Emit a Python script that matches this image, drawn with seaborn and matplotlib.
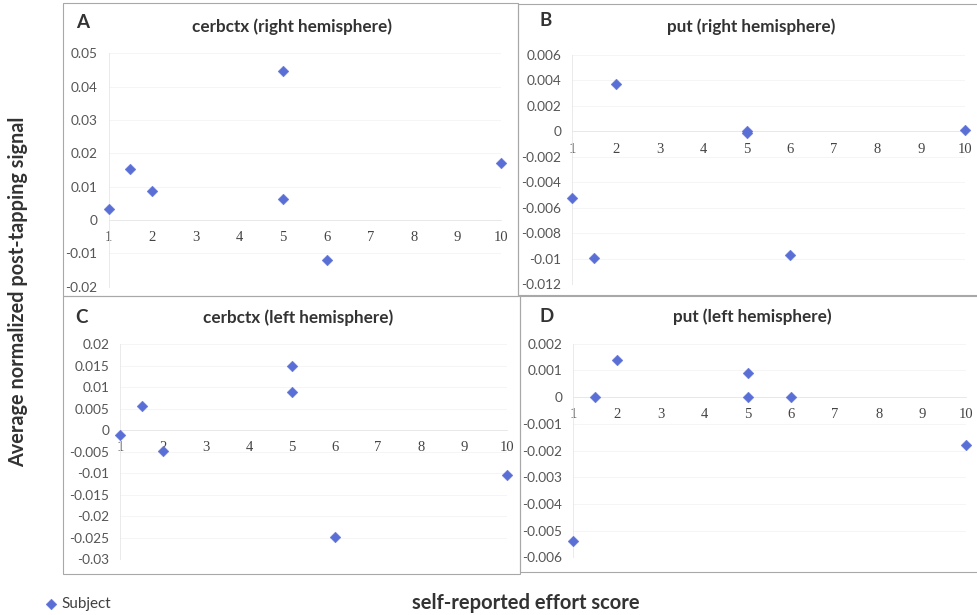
import matplotlib
matplotlib.use("Agg")
import matplotlib.pyplot as plt
from matplotlib.patches import Rectangle
from matplotlib.ticker import FuncFormatter
import pandas as pd
import seaborn as sns

# effort score of each subject, same for all four panels
effort = [1, 1.5, 2, 5, 5, 6, 10]

# average normalized post-tapping signal
cerbctx_right = [0.0032, 0.0152, 0.0088, 0.0446, 0.0064, -0.0119, 0.0170]
put_right = [-0.0052, -0.0099, 0.0037, 0.0000, -0.0001, -0.0097, 0.0001]
cerbctx_left = [-0.0010, 0.0057, -0.0049, 0.0150, 0.0089, -0.0247, -0.0103]
put_left = [-0.0054, 0.0000, 0.0014, 0.0009, 0.0000, 0.0000, -0.0018]

x_ticks = [1, 2, 3, 4, 5, 6, 7, 8, 9, 10]
yticks_A = [-0.02, -0.01, 0, 0.01, 0.02, 0.03, 0.04, 0.05]
yticks_B = [-0.012, -0.01, -0.008, -0.006, -0.004, -0.002, 0, 0.002, 0.004, 0.006]
yticks_C = [-0.03, -0.025, -0.02, -0.015, -0.01, -0.005, 0, 0.005, 0.01, 0.015, 0.02]
yticks_D = [-0.006, -0.005, -0.004, -0.003, -0.002, -0.001, 0, 0.001, 0.002]

letters = ["A", "B", "C", "D"]
titles = ["cerbctx (right hemisphere)", "put (right hemisphere)",
          "cerbctx (left hemisphere)", "put (left hemisphere)"]

sns.set_theme(style="white")
plt.rcParams["font.family"] = ["Lato", "DejaVu Sans"]

W, H = 977, 615
fig = plt.figure(figsize=(W / 100, H / 100), dpi=100)


def px_box(l, t, r, b):
    # pixel box -> figure fraction [left, bottom, width, height]
    return [l / W, 1 - b / H, (r - l) / W, (b - t) / H]


def fx(x):
    return x / W


def fy(y):
    return 1 - y / H


panels = [
    (px_box(108.5, 53.3, 501, 286.7), cerbctx_right, yticks_A, (83, 22), (292, 27)),
    (px_box(572.3, 55, 964.7, 284.3), put_right, yticks_B, (546, 21), (751, 27)),
    (px_box(120.3, 344.3, 507, 559.3), cerbctx_left, yticks_C, (82, 317), (298, 318)),
    (px_box(573.3, 343.7, 966, 557.3), put_left, yticks_D, (547, 316), (752, 317)),
]

blue = "#5a6fd6"
fmt = FuncFormatter(lambda v, p: f"{round(v, 6):g}" if round(v, 6) != 0 else "0")

handles = None
for i, (box, vals, yt, lpos, tpos) in enumerate(panels):
    ax = fig.add_axes(box)
    df = pd.DataFrame({"effort": effort, "signal": vals})
    sns.scatterplot(data=df, x="effort", y="signal", ax=ax, marker="D", s=30,
                    color=blue, edgecolor=blue, linewidth=0.3, clip_on=False,
                    zorder=5, label="Subject")
    if i == 0:
        handles, labels = ax.get_legend_handles_labels()
    ax.get_legend().remove()

    ax.set_xlim(1, 10)
    ax.set_ylim(yt[0], yt[-1])
    ax.set_xticks(x_ticks)
    ax.set_yticks(yt)
    ax.yaxis.set_major_formatter(fmt)
    ax.set_xlabel("")
    ax.set_ylabel("")
    ax.grid(axis="y", color="#f4f4f4", linewidth=0.6)
    ax.set_axisbelow(True)
    for s in ["top", "right"]:
        ax.spines[s].set_visible(False)
    ax.spines["left"].set_color("#e6e6e6")
    ax.spines["left"].set_linewidth(0.6)
    ax.spines["bottom"].set_position(("data", 0))
    ax.spines["bottom"].set_color("#e6e6e6")
    ax.spines["bottom"].set_linewidth(0.6)
    ax.tick_params(axis="y", length=3, color="#dddddd", pad=5,
                   labelsize=9.8, labelcolor="#555555")
    ax.tick_params(axis="x", length=0, pad=8, labelsize=10.5, labelcolor="#444444")
    for t in ax.get_xticklabels():
        t.set_fontfamily(["Liberation Serif", "DejaVu Serif"])

    fig.text(fx(lpos[0]), fy(lpos[1]), letters[i], ha="center", va="center",
             fontsize=13.5, fontweight="bold", color="#333333")
    fig.text(fx(tpos[0]), fy(tpos[1]), titles[i], ha="center", va="center",
             fontsize=12.3, fontweight="bold", color="#333333")

# panel frames
frame = dict(fill=False, edgecolor="#a8a8a8", linewidth=0.8, transform=fig.transFigure)
fig.add_artist(Rectangle((fx(63), fy(296)), fx(518 - 63), (293) / H, **frame))
fig.add_artist(Rectangle((fx(518), fy(295)), fx(980 - 518), (291) / H, **frame))
fig.add_artist(Rectangle((fx(63), fy(574)), fx(520 - 63), (278) / H, **frame))
fig.add_artist(Rectangle((fx(520), fy(572)), fx(980 - 520), (276) / H, **frame))

fig.text(fx(18), fy(292), "Average normalized post-tapping signal", rotation=90,
         ha="center", va="center", fontsize=14.3, fontweight="bold", color="#333333")
fig.text(fx(526), fy(603), "self-reported effort score", ha="center", va="center",
         fontsize=14.5, fontweight="bold", color="#333333")

fig.legend(handles, labels, loc="center left", bbox_to_anchor=(fx(37), fy(604)),
           frameon=False, fontsize=11, handletextpad=0.2, borderaxespad=0,
           labelcolor="#404040", handlelength=1)

fig.savefig("out.png", dpi=100)
